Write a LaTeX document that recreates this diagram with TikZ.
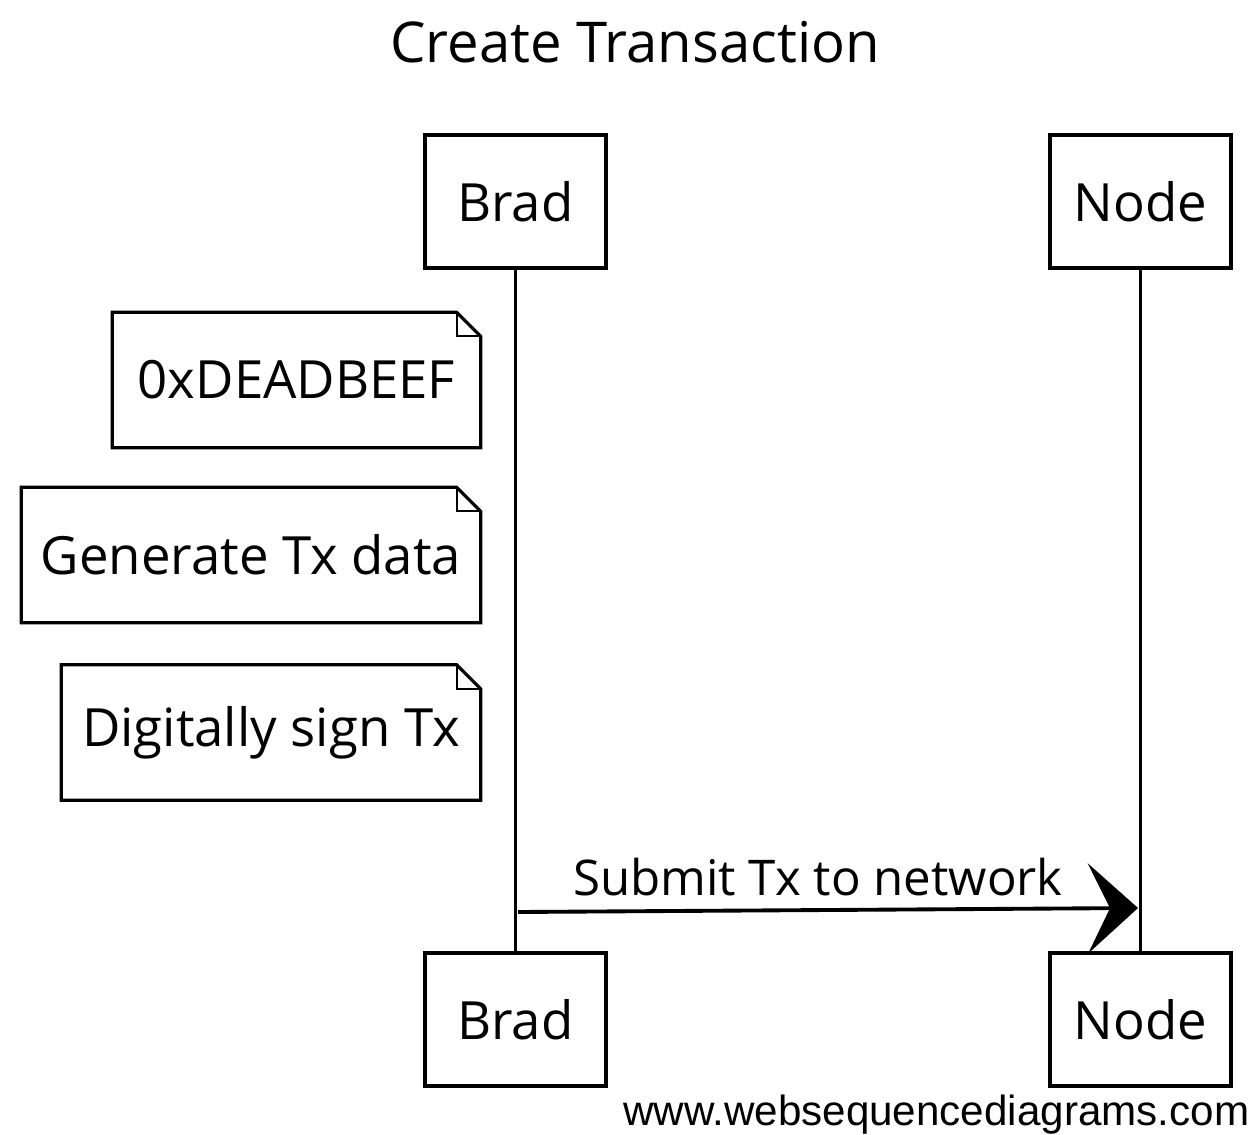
\documentclass[tikz,border=0pt]{standalone}
\usepackage{fontspec}
\setmainfont{Open Sans}
\newfontfamily\sitefont{Liberation Sans}
\usetikzlibrary{arrows.meta}

\begin{document}
\begin{tikzpicture}[
	actor/.style={draw, line width=0.9pt, minimum width=1.81cm, minimum height=1.33cm, font=\fontsize{15}{18}\selectfont}, % lifeline heads
	memo/.style={minimum height=1.34cm, font=\fontsize{15}{18}\selectfont}, % notes, outline drawn later
	msg/.style={-{Stealth[length=5mm,width=9mm,inset=2.2mm]}, line width=1.1pt}, % message arrow
	life/.style={line width=0.6pt} % lifelines
]
\useasboundingbox (0,0) rectangle (12.56,-11.35);

\node[font=\fontsize{16}{19}\selectfont](title) at (6.35,-0.42) {Create Transaction};

\node[actor](bradTop) at (5.155,-2.015) {Brad};
\node[actor](nodeTop) at (11.405,-2.015) {Node};
\node[actor](bradBot) at (5.155,-10.195) {Brad};
\node[actor](nodeBot) at (11.405,-10.195) {Node};

\node[memo,minimum width=3.67cm](hex) at (2.965,-3.80) {0xDEADBEEF};
\node[memo,minimum width=4.58cm](gen) at (2.51,-5.55) {Generate Tx data};
\node[memo,minimum width=4.18cm](sign) at (2.71,-7.325) {Digitally sign Tx};

% note outlines with folded corner
\foreach \n in {hex,gen,sign}{
	\draw[line width=0.9pt] (\n.south west) -- (\n.south east) -- ([yshift=-0.24cm]\n.north east)
		-- ([xshift=-0.24cm]\n.north east) -- (\n.north west) -- cycle;
	\draw[line width=0.6pt] ([xshift=-0.24cm]\n.north east) -- ([xshift=-0.24cm,yshift=-0.24cm]\n.north east)
		-- ([yshift=-0.24cm]\n.north east);
}

\draw[life] (bradTop) -- (bradBot);
\draw[life] (nodeTop) -- (nodeBot);

\coordinate (sendFrom) at (5.18,-9.12);
\coordinate (sendTo) at (11.38,-9.08);
\draw[msg] (sendFrom) -- node[above=0pt,xshift=-0.1cm,font=\fontsize{14}{17}\selectfont]{Submit Tx to network} (sendTo);

\node[anchor=base east,inner sep=0pt,font=\sitefont\fontsize{12}{14}\selectfont](site) at (12.50,-11.25) {www.websequencediagrams.com};
\end{tikzpicture}
\end{document}
